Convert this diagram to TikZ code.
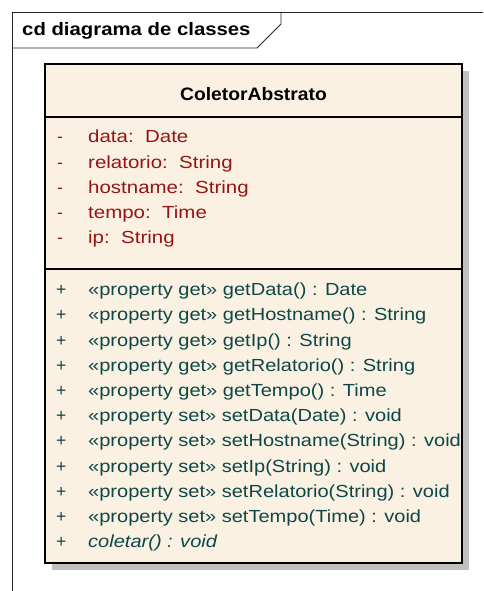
\documentclass[tikz,border=0pt]{standalone}
\usepackage{graphicx}
\usepackage{fontspec}
\setmainfont{Liberation Sans}
\definecolor{classfill}{RGB}{251,241,227}
\definecolor{attrcol}{RGB}{150,20,20}
\definecolor{opcol}{RGB}{12,72,72}
\definecolor{shadowcol}{RGB}{192,192,192}
% widened text, as the UML tool sets its labels
\newcommand{\widetext}[2]{\scalebox{#1}[1]{#2}}
\tikzset{
  frameline/.style={line width=0.9pt, draw=black!85},
  boxline/.style={line width=1.6pt, draw=black},
  titletext/.style={anchor=base west, inner sep=0pt, font=\fontsize{18}{20}\selectfont\bfseries},
  nametext/.style={anchor=base, inner sep=0pt, font=\fontsize{18}{20}\selectfont\bfseries},
  vistext/.style={anchor=base west, inner sep=0pt, font=\fontsize{17.5}{20}\selectfont},
  membertext/.style={anchor=base west, inner sep=0pt, font=\fontsize{17.5}{20}\selectfont},
}
\begin{document}
\begin{tikzpicture}[x=1pt,y=-1pt]
\useasboundingbox (0,0) rectangle (483,591);
\fill[white] (0,0) rectangle (483,591);
% diagram frame with its name tab
\draw[frameline] (12,591) -- (12,12) -- (483,12);
\draw[frameline] (12,48) -- (257,48) -- (281,24) -- (281,12);
\node[titletext] (title) at (22,36) {\widetext{1.13}{cd diagrama de classes}};
% class box with shadow
\fill[shadowcol] (52,71) rectangle (469,570);
\draw[boxline, fill=classfill] (45,64) rectangle (462,563);
\draw[boxline] (45,117) -- (462,117);
\draw[boxline] (45,269) -- (462,269);
\node[nametext] (cname) at (253.5,100.7) {\widetext{1.07}{ColetorAbstrato}};
% attributes
\foreach \i/\t in {0/{data:\ \ Date},1/{relatorio:\ \ String},2/{hostname:\ \ String},3/{tempo:\ \ Time},4/{ip:\ \ String}}{
  \node[vistext, text=attrcol] (avis\i) at (57,142.7+25.3*\i) {-};
  \node[membertext, text=attrcol] (attr\i) at (88,142.7+25.3*\i) {\widetext{1.17}{\t}};
}
% operations
\foreach \i/\t in {
  0/{«property get» getData() : Date},
  1/{«property get» getHostname() : String},
  2/{«property get» getIp() : String},
  3/{«property get» getRelatorio() : String},
  4/{«property get» getTempo() : Time},
  5/{«property set» setData(Date) : void},
  6/{«property set» setHostname(String) : void},
  7/{«property set» setIp(String) : void},
  8/{«property set» setRelatorio(String) : void},
  9/{«property set» setTempo(Time) : void},
  10/{\itshape coletar() : void}}{
  \node[vistext, text=opcol] (ovis\i) at (56,295.7+25.2*\i) {+};
  \node[membertext, text=opcol] (op\i) at (88,295.7+25.2*\i) {\widetext{1.145}{\t}};
}
\end{tikzpicture}
\end{document}
